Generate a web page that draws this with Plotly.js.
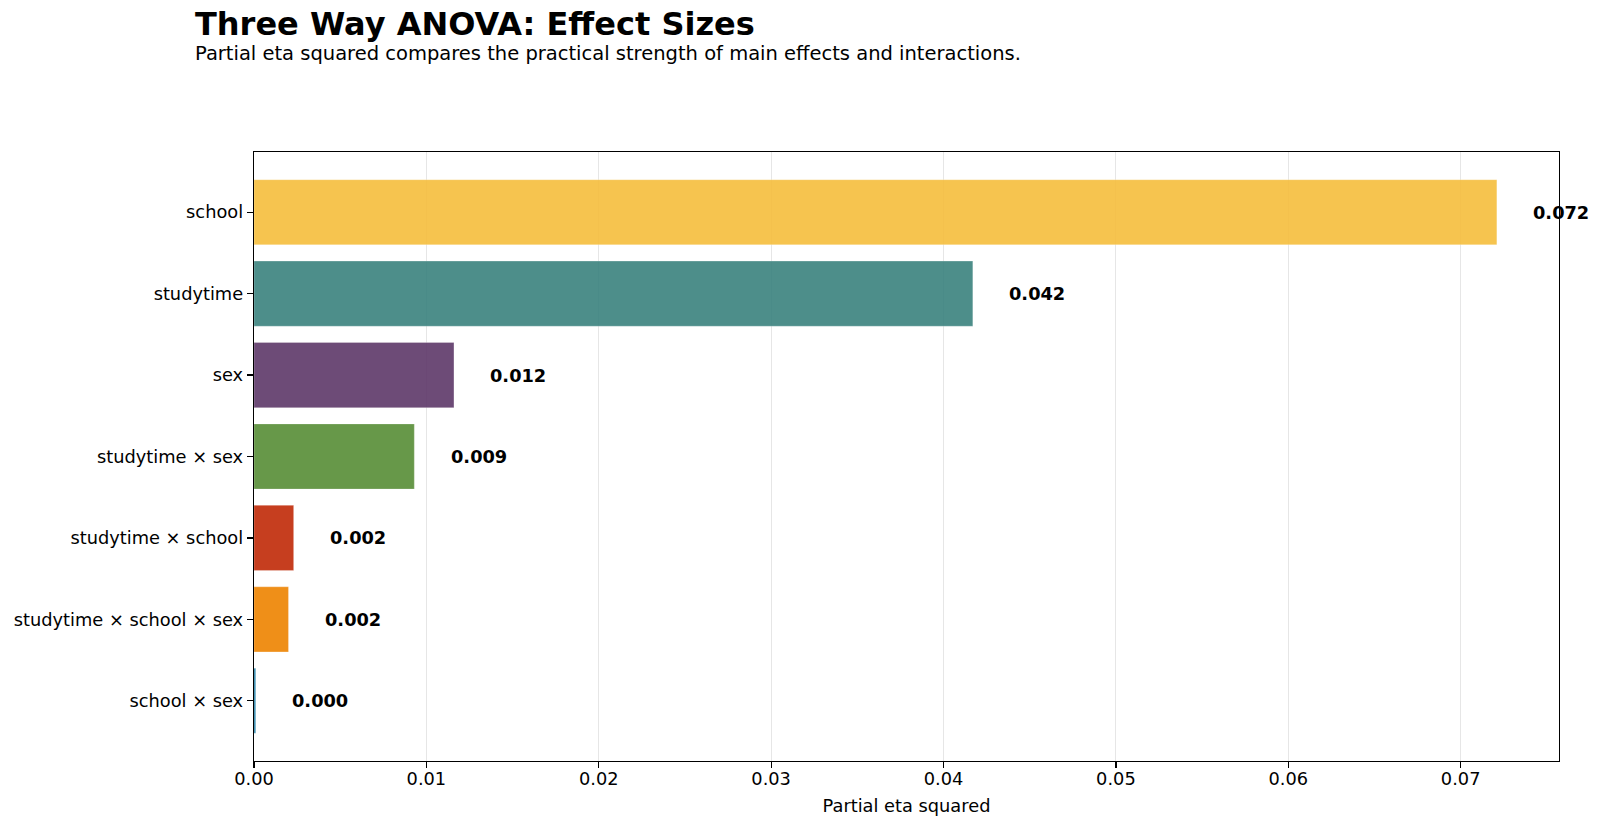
<!DOCTYPE html>
<html>
<head>
<meta charset="utf-8">
<script src="https://cdn.plot.ly/plotly-3.0.1.min.js"></script>
<style>
  html, body { margin: 0; padding: 0; background: #fff; }
  #chart { width: 1600px; height: 829px; }
</style>
</head>
<body>
<div id="chart"></div>
<script>
// Effect terms, largest first
const terms = [
  "school",
  "studytime",
  "sex",
  "studytime × sex",
  "studytime × school",
  "studytime × school × sex",
  "school × sex"
];

// Partial eta squared for each term
const etaSq = [0.0721, 0.0417, 0.0116, 0.0093, 0.0023, 0.0020, 0.0001];

// Bar colours, one per term
const barColors = ["#F6BE3D", "#3A827E", "#5E3869", "#578D36", "#C02A07", "#EE8300", "#1778A2"];

const xTicks = [0, 0.01, 0.02, 0.03, 0.04, 0.05, 0.06, 0.07];

const FONT = "DejaVu Sans, Liberation Sans, Arial, sans-serif";
const xMax = Math.max(...etaSq) * 1.05;
const labelOffset = 0.002;

const trace = {
  type: "bar",
  orientation: "h",
  x: etaSq,
  y: terms,
  marker: {
    color: barColors,
    opacity: 0.9,
    line: { color: "rgba(255,255,255,0.5)", width: 0.5 }
  },
  hoverinfo: "x+y"
};

// Value labels beside each bar
const valueLabels = etaSq.map((v, i) => ({
  x: v + labelOffset,
  y: terms[i],
  xref: "x",
  yref: "y",
  text: v.toFixed(3),
  showarrow: false,
  xanchor: "left",
  yanchor: "middle",
  font: { family: FONT, size: 17.8, color: "#000", weight: "bold" }
}));

const plotLeft = 254, plotRight = 1559, plotTop = 152, plotBottom = 761;
const plotH = plotBottom - plotTop, plotW = plotRight - plotLeft;

const headings = [
  {
    text: "<b>Three Way ANOVA: Effect Sizes</b>",
    xref: "paper", yref: "paper",
    x: (194 - plotLeft) / plotW,
    y: 1 + (plotTop - 24) / plotH,
    xanchor: "left", yanchor: "middle",
    showarrow: false,
    borderpad: 0,
    font: { family: FONT, size: 32, color: "#000" }
  },
  {
    text: "Partial eta squared compares the practical strength of main effects and interactions.",
    xref: "paper", yref: "paper",
    x: (194 - plotLeft) / plotW,
    y: 1 + (plotTop - 53) / plotH,
    xanchor: "left", yanchor: "middle",
    showarrow: false,
    borderpad: 0,
    font: { family: FONT, size: 19.5, color: "#000" }
  }
];

const layout = {
  width: 1600,
  height: 829,
  margin: { l: plotLeft, r: 1600 - plotRight, t: plotTop, b: 829 - plotBottom, pad: 0 },
  paper_bgcolor: "#fff",
  plot_bgcolor: "#fff",
  font: { family: FONT, size: 17.8, color: "#000" },
  showlegend: false,
  bargap: 0.2,
  xaxis: {
    range: [0, xMax],
    tickvals: xTicks,
    ticktext: xTicks.map(t => t.toFixed(2)),
    ticks: "outside",
    ticklen: 6,
    tickwidth: 1.2,
    tickcolor: "#000",
    ticklabelstandoff: -5,
    showline: true,
    linecolor: "#000",
    linewidth: 1.3,
    mirror: true,
    showgrid: true,
    gridcolor: "#e6e6e6",
    gridwidth: 1,
    zeroline: false,
    tickfont: { family: FONT, size: 17.8, color: "#000" },
    title: { text: "Partial eta squared", standoff: 12, font: { family: FONT, size: 17.8, color: "#000" } }
  },
  yaxis: {
    type: "category",
    range: [6.74, -0.74],
    ticks: "outside",
    ticklen: 6,
    tickwidth: 1.2,
    tickcolor: "#000",
    showline: true,
    linecolor: "#000",
    linewidth: 1.3,
    mirror: true,
    showgrid: false,
    zeroline: false,
    tickfont: { family: FONT, size: 17.8, color: "#000" }
  },
  annotations: headings.concat(valueLabels)
};

Plotly.newPlot("chart", [trace], layout, { displayModeBar: false, staticPlot: true });
</script>
</body>
</html>
